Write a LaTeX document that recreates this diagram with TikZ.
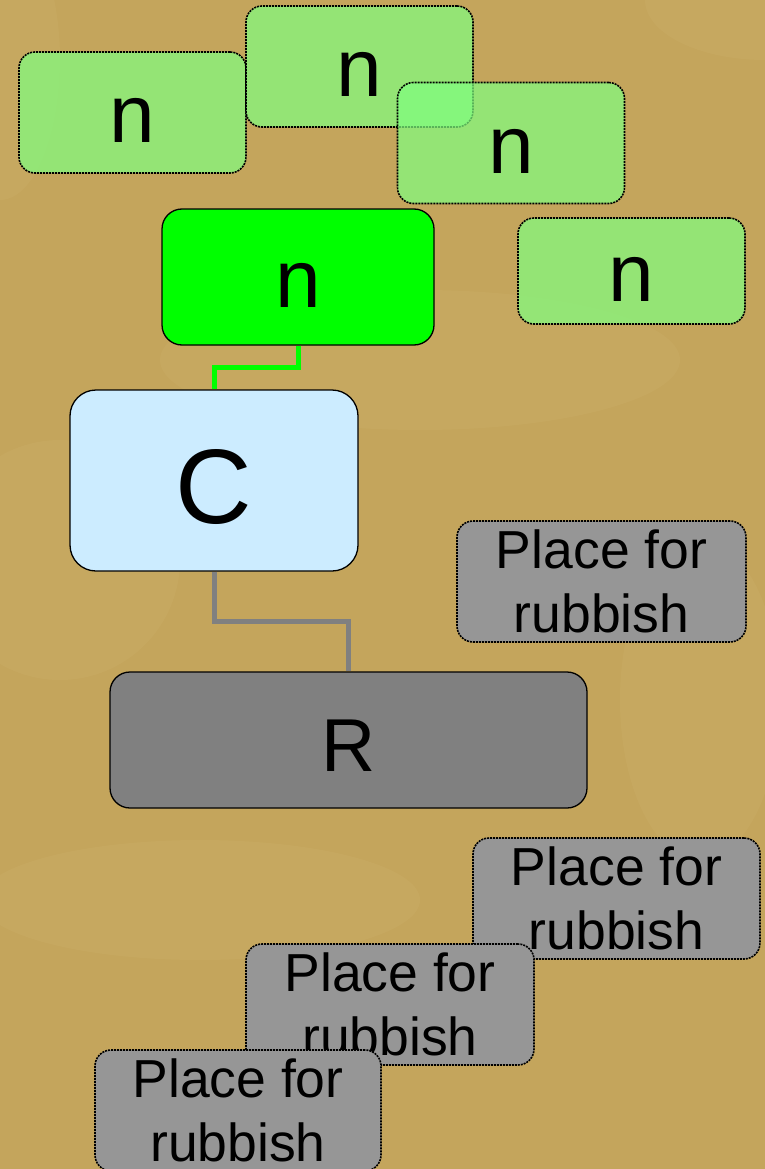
\documentclass[tikz,border=0pt]{standalone}
\usepackage{fontspec}
\setmainfont{Liberation Sans}
\usetikzlibrary{calc}
\definecolor{bgtan}{RGB}{196,165,92}
\definecolor{bglight}{RGB}{214,184,118}
\definecolor{lgreen}{RGB}{128,255,128}
\definecolor{lblue}{RGB}{204,236,255}
\definecolor{rgray}{RGB}{128,128,128}
\definecolor{pgray}{RGB}{150,150,150}
\definecolor{limegreen}{RGB}{0,255,0}
\begin{document}
\begin{tikzpicture}[x=1pt,y=-1pt,
  box/.style={rectangle, inner sep=0pt, draw=black, line width=1.3pt},
  nbox/.style={box, rounded corners=16pt, fill=lgreen, fill opacity=0.7, text opacity=1, draw opacity=1,
    dash pattern=on 2pt off 1pt, line width=1.6pt, minimum width=227pt, minimum height=121pt,
    font=\fontsize{82}{82}\selectfont, text height=61pt, text depth=0pt},
  mainn/.style={box, rounded corners=20pt, fill=limegreen, minimum width=272pt, minimum height=136pt,
    font=\fontsize{82}{82}\selectfont, text height=60pt, text depth=0pt},
  cbox/.style={box, rounded corners=26pt, fill=lblue, minimum width=288pt, minimum height=181pt,
    font=\fontsize{106}{106}\selectfont, text height=85pt, text depth=0pt},
  rbox/.style={box, rounded corners=20pt, fill=rgray, minimum width=477pt, minimum height=136pt,
    font=\fontsize{75}{75}\selectfont, text height=62pt, text depth=0pt},
  pbox/.style={box, rounded corners=16pt, fill=pgray, dash pattern=on 2pt off 1pt, line width=1.6pt,
    minimum width=288pt, minimum height=121pt, align=center,
    font=\fontsize{53.5}{64}\selectfont},
  gline/.style={draw=limegreen, line width=5pt},
  rline/.style={draw=rgray, line width=5pt}
]
\useasboundingbox (0,0) rectangle (765,1169);
% background
\fill[bgtan] (0,0) rectangle (765,1169);
\begin{scope}
  \clip (0,0) rectangle (765,1169);
  \begin{scope}[opacity=0.16]
    \fill[bglight] (765,0) ellipse (120 and 60);
    \fill[bglight] (0,60) ellipse (60 and 140);
    \fill[bglight] (420,360) ellipse (260 and 70);
    \fill[bglight] (60,560) ellipse (120 and 120);
    \fill[bglight] (200,900) ellipse (220 and 60);
    \fill[bglight] (700,700) ellipse (80 and 160);
  \end{scope}
\end{scope}

% green n boxes
\node[nbox] (n1) at (132.5,112.5) {n};
\node[nbox] (n2) at (359.5,66.5) {n};
\node[nbox] (n3) at (511,143) {n};
\node[nbox, minimum height=106pt] (n4) at (631.5,271) {n};
\node[mainn] (gn) at (298,277) {n};

% C and R
\node[cbox] (c) at (214,480.5) {C};
\node[rbox] (r) at (348.5,740) {R};

% rubbish boxes
\node[pbox, minimum width=289pt] (p1) at (601.5,581.5) {Place for\\rubbish};
\node[pbox, minimum width=287pt] (p2) at (616.5,898.5) {Place for\\rubbish};
\node[pbox] (p3) at (390,1004.5) {Place for\\rubbish};
\node[pbox, minimum width=286pt] (p4) at (238,1110.5) {Place for\\rubbish};

% connectors
\coordinate (m1) at ($(gn.south)!0.5!(c.north)$);
\draw[gline] (gn.south) -- (gn.south |- m1) -- (c.north |- m1) -- (c.north);
\coordinate (m2) at ($(c.south)!0.5!(r.north)$);
\draw[rline] (c.south) -- (c.south |- m2) -- (r.north |- m2) -- (r.north);
\end{tikzpicture}
\end{document}
